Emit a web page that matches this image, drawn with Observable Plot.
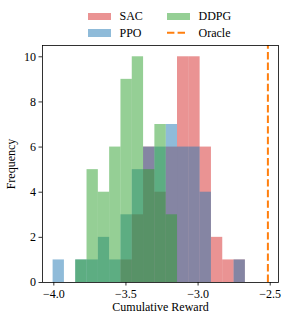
<!DOCTYPE html>
<html><head><meta charset="utf-8">
<script src="https://cdn.jsdelivr.net/npm/d3@7"></script>
<script src="https://cdn.jsdelivr.net/npm/@observablehq/plot@0.6"></script>
<style>
body{margin:0;background:#fff;}
#wrap{position:relative;width:290px;height:323px;font-family:"Liberation Serif",serif;color:#000;}
#wrap svg{position:absolute;left:0;top:0;}
#wrap svg text{font-family:"Liberation Serif",serif;font-variant-numeric:normal;}
.leg{position:absolute;font-size:12px;line-height:12px;white-space:nowrap;}
.sw{position:absolute;}
</style></head><body><div id="wrap"></div>
<script>
// shared histogram bin edges (cumulative reward)
const binEdges = [-4.005, -3.9266, -3.8482, -3.7698, -3.6914, -3.613, -3.5346, -3.4562, -3.3778,
  -3.2994, -3.221, -3.1426, -3.0642, -2.9858, -2.9074, -2.829, -2.7506, -2.6722];
// counts per bin for each algorithm
const sacCounts  = [0, 0, 0, 0, 0, 0, 1, 3, 6, 4, 6, 10, 10, 6, 2, 1, 1];
const ppoCounts  = [1, 0, 1, 1, 2, 1, 3, 5, 6, 6, 7, 6, 6, 4, 0, 0, 1];
const ddpgCounts = [0, 0, 1, 5, 4, 6, 9, 10, 5, 7, 3, 0, 0, 0, 0, 0, 0];
const oracleReward = -2.516;
const seriesNames = ["SAC", "PPO", "DDPG"];
const seriesColors = ["#d62728", "#1f77b4", "#2ca02c"];
const oracleName = "Oracle";
const oracleColor = "#ff7f0e";
const xTicks = [-4.0, -3.5, -3.0, -2.5];
const yTicks = [0, 2, 4, 6, 8, 10];

const toBars = counts => counts.map((c, i) => ({x1: binEdges[i], x2: binEdges[i + 1], y: c})).filter(d => d.y > 0);
const allCounts = [sacCounts, ppoCounts, ddpgCounts];

const chart = Plot.plot({
  width: 290, height: 323,
  marginLeft: 42, marginRight: 12, marginTop: 45, marginBottom: 41,
  style: {fontFamily: "Liberation Serif, serif", fontSize: "12px", background: "white", color: "black"},
  x: {domain: [-4.0785, -2.4425]},
  y: {domain: [0, 10.5]},
  marks: [
    ...allCounts.map((c, k) => Plot.rectY(toBars(c), {x1: "x1", x2: "x2", y: "y", fill: seriesColors[k], fillOpacity: 0.5})),
    Plot.ruleX([oracleReward], {y1: 0, y2: 10.5, stroke: oracleColor, strokeWidth: 2, strokeDasharray: "7.4,3.2"}),
    Plot.frame({stroke: "black", strokeWidth: 0.8}),
    Plot.axisX({ticks: xTicks, tickFormat: d3.format(".1f"), tickSize: 3.5, tickPadding: 3, strokeWidth: 0.8,
      label: "Cumulative Reward", labelAnchor: "center", labelOffset: 28, labelArrow: "none"}),
    Plot.axisY({ticks: yTicks, tickFormat: d3.format("d"), tickSize: 3.5, tickPadding: 3, strokeWidth: 0.8,
      label: "Frequency", labelAnchor: "center", labelOffset: 36, labelArrow: "none"})
  ]
});
const wrap = document.getElementById("wrap");
wrap.appendChild(chart);

// legend (2 columns, matplotlib style)
const legendItems = [
  {name: seriesNames[0], color: seriesColors[0], type: "patch", x: 88, y: 12.7},
  {name: seriesNames[1], color: seriesColors[1], type: "patch", x: 88, y: 29.3},
  {name: seriesNames[2], color: seriesColors[2], type: "patch", x: 167, y: 12.7},
  {name: oracleName, color: oracleColor, type: "line", x: 167, y: 29.3}
];
for (const it of legendItems) {
  const sw = document.createElement("div");
  sw.className = "sw";
  if (it.type === "patch") {
    sw.style.cssText = `left:${it.x}px;top:${it.y}px;width:23px;height:7.3px;background:${it.color};opacity:0.5;`;
  } else {
    sw.innerHTML = `<svg width="22" height="8"><line x1="0" y1="3.7" x2="21" y2="3.7" stroke="${it.color}" stroke-width="2" stroke-dasharray="7.4,3.2"/></svg>`;
    sw.style.cssText = `left:${it.x}px;top:${it.y}px;`;
  }
  wrap.appendChild(sw);
  const t = document.createElement("div");
  t.className = "leg";
  t.textContent = it.name;
  t.style.left = (it.x + 31.5) + "px";
  t.style.top = (it.y - 2.5) + "px";
  wrap.appendChild(t);
}
</script></body></html>
